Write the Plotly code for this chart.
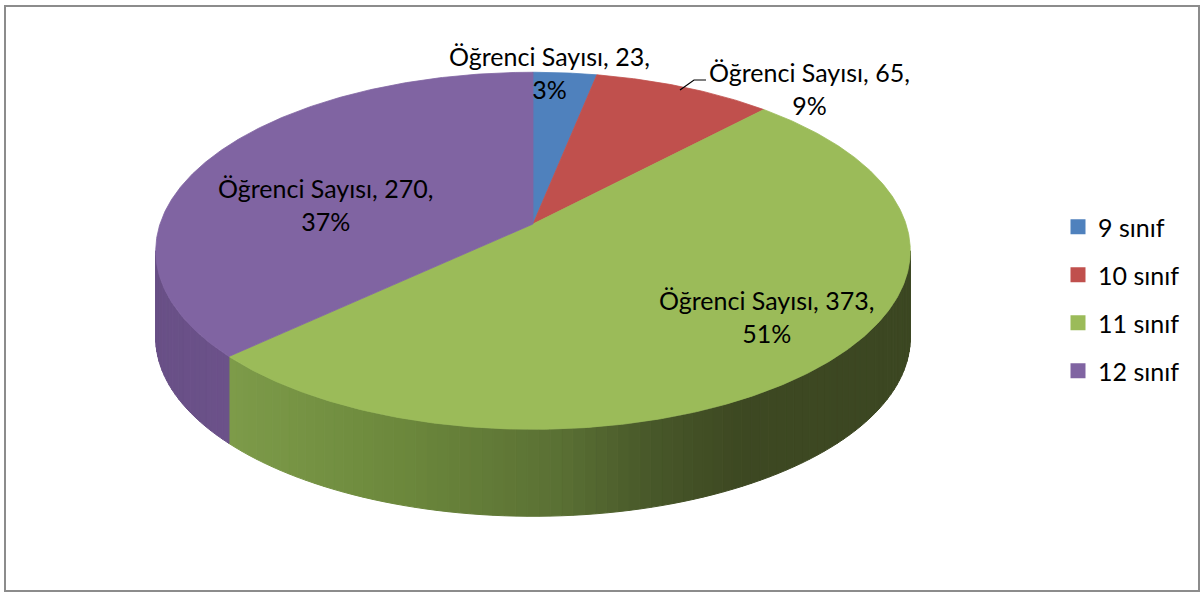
import numpy as np
import plotly.graph_objects as go

# ---- data ----
categories = ["9 sınıf", "10 sınıf", "11 sınıf", "12 sınıf"]
values = [23, 65, 373, 270]
series_name = "Öğrenci Sayısı"

# ---- styles ----
top_colors = ["#4F81BD", "#C0504D", "#9BBB59", "#8064A2"]
# side shading stops (x pixel, rgb) per slice
side_shade = {
    2: [(220, (126, 156, 74)), (400, (108, 136, 60)), (560, (90, 112, 52)),
        (650, (72, 88, 41)), (740, (61, 72, 34)), (920, (60, 71, 34))],
    3: [(150, (104, 79, 134)), (240, (108, 82, 138))],
}
FONT = "Lato"
FS = 25

# geometry of the projected pie
CX, CY, R, RY, K, DEPTH = 533.0, 224.0, 373.0, 174.5, 0.15, 87.0


def proj(theta_deg, drop=0.0):
    t = np.radians(theta_deg)
    s = 1.0 / (1.0 + K * np.cos(t))
    return CX + R * np.sin(t) * s, CY - RY * np.cos(t) * s + drop


def shade(idx, x):
    stops = side_shade[idx]
    xs = [p[0] for p in stops]
    rgb = [int(round(np.interp(x, xs, [p[1][c] for p in stops]))) for c in range(3)]
    return "rgb(%d,%d,%d)" % tuple(rgb)


total = float(sum(values))
fractions = [v / total for v in values]
bounds = np.concatenate([[0.0], np.cumsum(fractions)]) * 360.0

fig = go.Figure()

# visible front side range
vis_a = np.degrees(np.arccos(-K))
vis_b = 360.0 - vis_a

# side walls (drawn first)
for i in range(len(values)):
    a, b = max(bounds[i], vis_a), min(bounds[i + 1], vis_b)
    if b <= a or i not in side_shade:
        continue
    n = max(2, int(np.ceil((b - a) / 1.5)))
    edges = np.linspace(a, b, n + 1)
    for j in range(n):
        th = np.linspace(edges[j], edges[j + 1], 6)
        xt, yt = proj(th)
        xb, yb = proj(th[::-1], DEPTH)
        xs = np.concatenate([xt, xb, xt[:1]])
        ys = np.concatenate([yt, yb, yt[:1]])
        col = shade(i, float(np.mean(xt)))
        fig.add_trace(go.Scatter(x=xs, y=ys, mode="lines", fill="toself",
                                 fillcolor=col, line=dict(color=col, width=1),
                                 hoverinfo="skip", showlegend=False))

# top faces
for i in range(len(values)):
    th = np.linspace(bounds[i], bounds[i + 1], max(3, int((bounds[i + 1] - bounds[i]) * 2)))
    xa, ya = proj(th)
    xs = np.concatenate([[CX], xa, [CX]])
    ys = np.concatenate([[CY], ya, [CY]])
    fig.add_trace(go.Scatter(x=xs, y=ys, mode="lines", fill="toself",
                             fillcolor=top_colors[i],
                             line=dict(color=top_colors[i], width=0.8),
                             hoverinfo="skip", showlegend=False))

# legend entries
for i, c in enumerate(categories):
    fig.add_trace(go.Scatter(x=[None], y=[None], mode="markers", name=c,
                             legendgroup=c,
                             marker=dict(symbol="square", size=15, color=top_colors[i])))

# data labels
label_pos = [(549, 72), (809, 88), (766, 316), (325, 204)]
for i, v in enumerate(values):
    pct = int(round(fractions[i] * 100))
    fig.add_annotation(x=label_pos[i][0], y=label_pos[i][1], xref="x", yref="y",
                       text=f"{series_name}, {v},<br>{pct}%", showarrow=False,
                       xanchor="center", yanchor="middle", align="center",
                       font=dict(family=FONT, size=FS, color="black"))

# leader line for second label
fig.add_shape(type="path", xref="x", yref="y", path="M 680 90 L 694 80 L 706 80",
              line=dict(color="black", width=1.2))

# chart border
fig.add_shape(type="rect", xref="paper", yref="paper",
              x0=5 / 1200, x1=1199 / 1200, y0=1 - 591 / 592, y1=1 - 6 / 592,
              line=dict(color="#8C8C8C", width=2))

fig.update_layout(
    width=1200, height=592,
    margin=dict(l=0, r=0, t=0, b=0),
    paper_bgcolor="white", plot_bgcolor="white",
    xaxis=dict(range=[0, 1200], visible=False, fixedrange=True),
    yaxis=dict(range=[592, 0], visible=False, fixedrange=True),
    showlegend=True,
    legend=dict(x=1058 / 1200, y=1 - 204 / 592, xanchor="left", yanchor="top",
                traceorder="grouped", tracegroupgap=12.5,
                font=dict(family=FONT, size=FS, color="black"),
                bgcolor="rgba(0,0,0,0)"),
    font=dict(family=FONT),
)

fig.write_html("out.html", config={"displayModeBar": False},
               post_script="document.body.style.margin='0';")
